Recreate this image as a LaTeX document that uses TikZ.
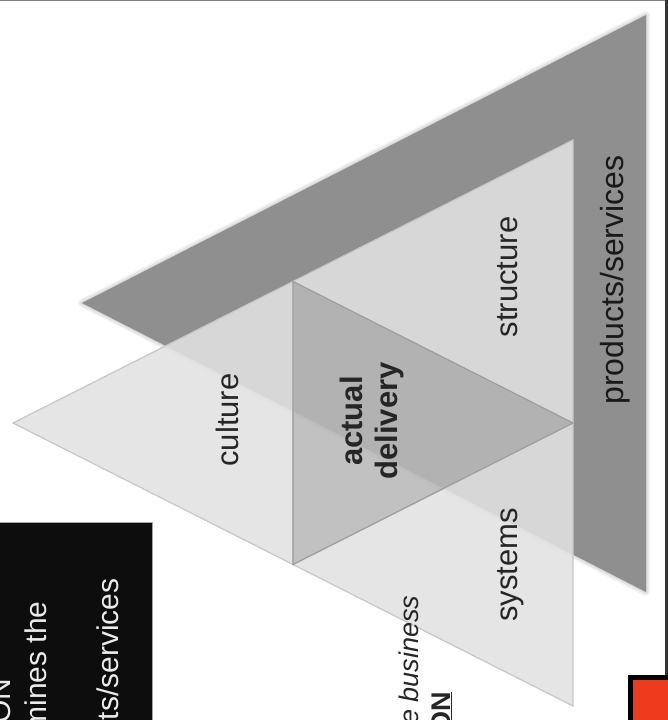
\documentclass[tikz,border=0pt]{standalone}
\usepackage{fontspec}
\setmainfont{Liberation Sans}
\usetikzlibrary{calc}

\definecolor{band}{HTML}{8F8F8F}
\definecolor{pale}{HTML}{E2E2E2}
\definecolor{core}{HTML}{B8B8B8}
\definecolor{slide}{HTML}{EE3B1E}

\begin{document}
\begin{tikzpicture}[x = 1pt, y = -1pt,
	part/.style = {fill = pale, fill opacity = 0.87, draw = black!22, line width = 1.2pt},
	word/.style = {rotate = 90, anchor = base, text = black!85, font = \fontsize{31}{36}\selectfont}]

	% Page and frame

	\useasboundingbox (0, 0) rectangle (668, 720);
	\clip (0, 0) rectangle (668, 720);
	\fill [white] (0, 0) rectangle (668, 720);
	\draw [gray, line width = 1.5pt] (0, 0.5) -- (668, 0.5);
	\draw [black!80, line width = 2.5pt] (666.5, 0) -- (666.5, 677);

	% The outer triangle, with a soft shadow

	\coordinate (tip) at (82, 303);
	\coordinate (top) at (646, 15);
	\coordinate (foot) at (646, 592);
	\foreach \w in {8, 5, 2}
		\draw [black, opacity = 0.05, line width = \w pt, line join = round] (tip) -- (top) -- (foot) -- cycle;
	\fill [band] (tip) -- (top) -- (foot) -- cycle;

	% The four inner triangles

	\coordinate (apex) at (13, 423);
	\coordinate (upper) at (573, 140);
	\coordinate (lower) at (573, 706);

	\coordinate (mid up) at ($(apex)!0.5!(upper)$);
	\coordinate (mid down) at ($(apex)!0.5!(lower)$);
	\coordinate (mid right) at ($(upper)!0.5!(lower)$);

	\draw [part] (apex) -- (mid up) -- (mid down) -- cycle;
	\draw [part] (mid up) -- (upper) -- (mid right) -- cycle;
	\draw [part] (mid down) -- (mid right) -- (lower) -- cycle;
	\draw [part, fill = core, draw = black!38] (mid up) -- (mid right) -- (mid down) -- cycle;

	% Labels

	\node [word] (structure) at (517, 277) {structure};
	\node [word] (culture) at (238, 420) {culture};
	\node [word] (systems) at (517, 565) {systems};
	\node [word, anchor = center, align = center, font = \fontsize{31}{35}\selectfont\bfseries] (delivery) at (372, 421) {actual\\delivery};
	\node [word, text = black!90, font = \fontsize{32}{36}\selectfont] (products) at (623, 280) {products/services};

	% Black panel

	\draw [fill = black!95, draw = gray!70, line width = 1pt] (-2, 522) rectangle (152, 730);
	\begin{scope}[word/.append style = {anchor = base east, text = white!92!black, font = \fontsize{30}{36}\selectfont}]
		\node [word] (panel one) at (10, 675) {ON};
		\node [word] (panel two) at (46, 598) {mines the};
		\node [word] (panel three) at (118, 575) {ts/services};
	\end{scope}

	% Caption

	\node [word, anchor = base east, font = \fontsize{27}{32}\selectfont\itshape] (caption one) at (418, 592) {e business};
	\node [word, anchor = base east, font = \fontsize{27}{32}\selectfont\bfseries] (caption two) at (450, 688) {\underline{ON}};

	% Red box

	\draw [fill = slide, draw = black, line width = 5pt] (630.5, 677.5) rectangle (690, 740);

\end{tikzpicture}
\end{document}
